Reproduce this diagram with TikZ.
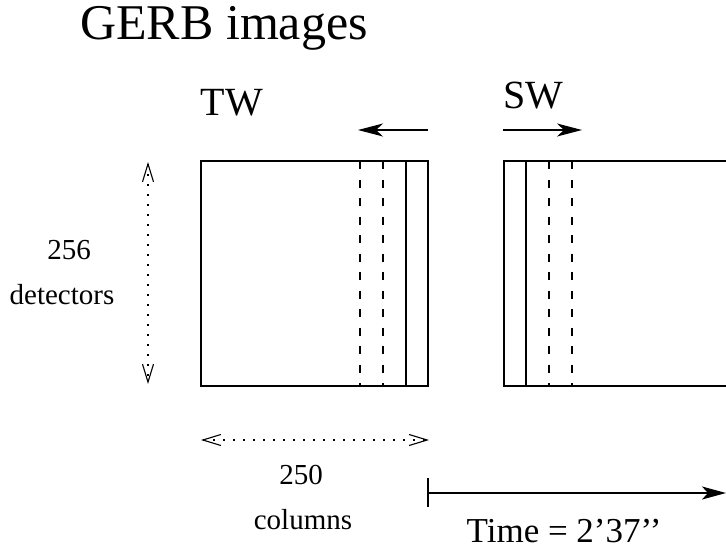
\documentclass[tikz,border=0pt]{standalone}
\usepackage{fontspec}
\setmainfont{Liberation Serif}
\usetikzlibrary{arrows.meta}
\begin{document}
\begin{tikzpicture}[x=1pt,y=-1pt,
  frame/.style={draw,line width=1.3pt,rectangle,minimum width=227pt,minimum height=225pt,inner sep=0pt},
  sep/.style={line width=1.1pt},
  dsep/.style={line width=1.1pt,dash pattern=on 8pt off 10.5pt},
  scan/.style={line width=1.3pt,-{Stealth[length=25pt,width=13pt,inset=7pt]}},
  extent/.style={line width=1.1pt,dash pattern=on 1.4pt off 8.6pt,
    {Straight Barb[length=18pt,width=11pt,line width=1.1pt]}-{Straight Barb[length=18pt,width=11pt,line width=1.1pt]}},
  lbl/.style={anchor=base,inner sep=0pt}]
\useasboundingbox (0,0) rectangle (726,552);

% title and channel labels
\node[lbl,font=\fontsize{50}{54}\selectfont] (title) at (224,39) {GERB images};
\node[lbl,font=\fontsize{40}{44}\selectfont] (twl) at (232,115) {TW};
\node[lbl,font=\fontsize{40}{44}\selectfont] (swl) at (533,108) {SW};

% the two image frames
\node[frame] (tw) at (314.5,273.5) {};
\node[frame] (sw) at (617.5,273.5) {};

% column boundaries inside the TW frame
\draw[sep]  (406,161) -- (406,386);
\draw[dsep] (383,161) -- (383,386);
\draw[dsep] (360,161) -- (360,386);

% column boundaries inside the SW frame
\draw[sep]  (526,161) -- (526,386);
\draw[dsep] (549,161) -- (549,386);
\draw[dsep] (572,161) -- (572,386);

% scan directions
\coordinate (twa) at (428,130);
\coordinate (twb) at (358,130);
\coordinate (swa) at (503,130);
\coordinate (swb) at (582,130);
\draw[scan] (twa) -- (twb);
\draw[scan] (swa) -- (swb);

% extent of a frame
\coordinate (vt) at (148,162);
\coordinate (vb) at (148,384);
\draw[extent] (vt) -- (vb);
\coordinate (hl) at (201,440);
\coordinate (hr) at (429,440);
\draw[extent] (hl) -- (hr);

\node[lbl,font=\fontsize{29}{32}\selectfont] (n256) at (69,259) {256};
\node[lbl,font=\fontsize{29}{32}\selectfont] (det) at (62,304) {detectors};
\node[lbl,font=\fontsize{29}{32}\selectfont] (n250) at (301,484) {250};
\node[lbl,font=\fontsize{29}{32}\selectfont] (col) at (303,529) {columns};

% time axis
\coordinate (t0) at (428,493);
\coordinate (t1) at (726,493);
\draw[line width=2pt] (428,478) -- (428,507);
\draw[line width=1.8pt,-{Stealth[length=24pt,width=13pt,inset=6pt]}] (t0) -- (t1);
\node[lbl,font=\fontsize{35}{38}\selectfont] (time) at (564,542) {Time = 2’37’{}’};
\end{tikzpicture}
\end{document}
